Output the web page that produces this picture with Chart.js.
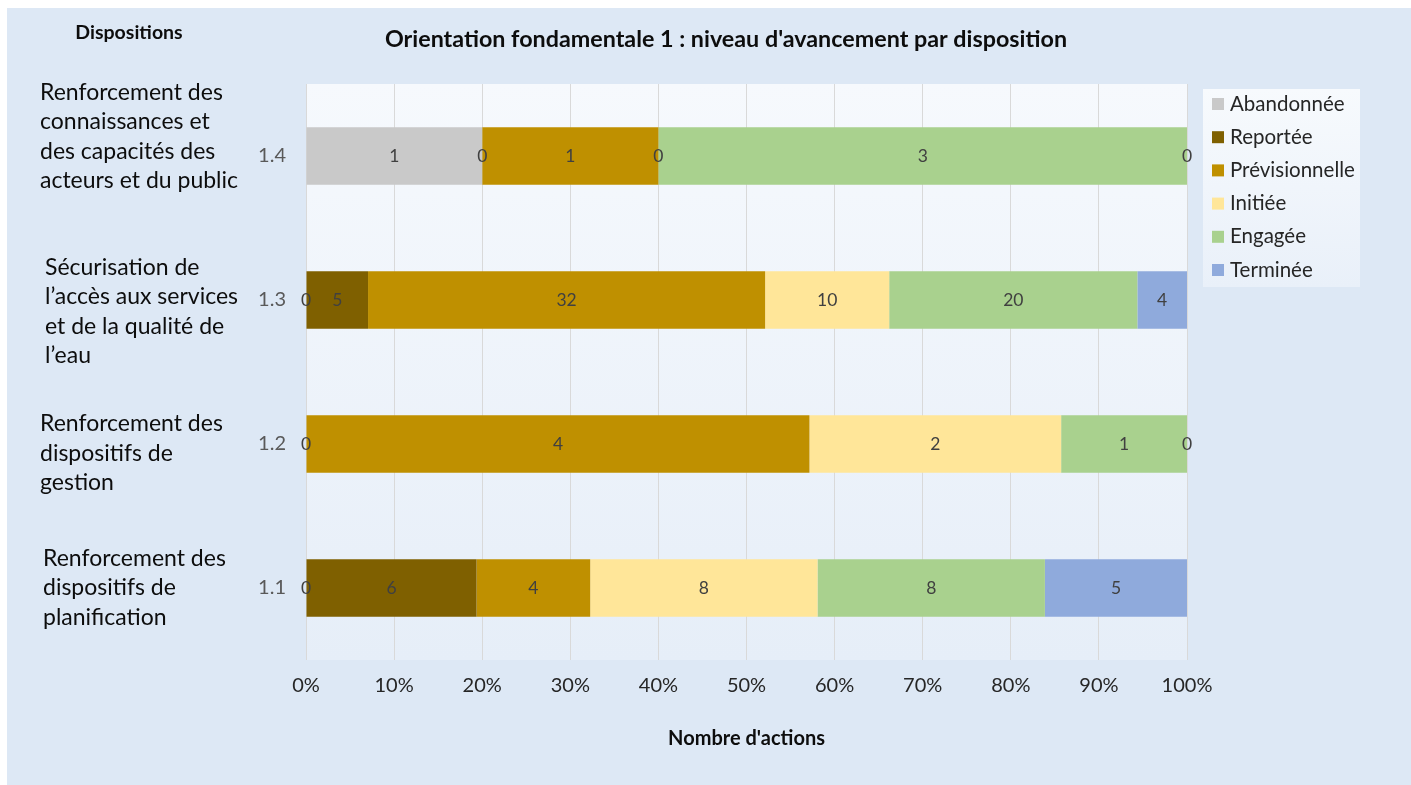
<!DOCTYPE html>
<html>
<head>
<meta charset="utf-8">
<script src="https://cdn.jsdelivr.net/npm/chart.js@4"></script>
<style>
  html, body { margin: 0; padding: 0; background: #fff; }
  #wrap { width: 1411px; height: 785px; }
</style>
</head>
<body>
<div id="wrap"><canvas id="avancement" width="1411" height="785"></canvas></div>
<script>
/* ========== Data ========== */
const codes = ["1.4", "1.3", "1.2", "1.1"];
const descriptions = [
  ["Renforcement des", "connaissances et", "des capacités des", "acteurs et du public"],
  ["Sécurisation de", "l’accès aux services", "et de la qualité de", "l’eau"],
  ["Renforcement des", "dispositifs de", "gestion"],
  ["Renforcement des", "dispositifs de", "planification"]
];
const seriesNames = ["Abandonnée", "Reportée", "Prévisionnelle", "Initiée", "Engagée", "Terminée"];
const abandonnee = [1, 0, null, 0];
const reportee = [0, 5, 0, 6];
const previsionnelle = [1, 32, 4, 4];
const initiee = [0, 10, 2, 8];
const engagee = [3, 20, 1, 8];
const terminee = [0, 4, 0, 5];
const xTicks = [0, 10, 20, 30, 40, 50, 60, 70, 80, 90, 100];

const colors = ["#c9c9c9", "#7f6000", "#bf9000", "#ffe699", "#a9d18e", "#8faadc"];
const counts = [abandonnee, reportee, previsionnelle, initiee, engagee, terminee];
const totals = codes.map((c, j) => counts.reduce((s, arr) => s + (arr[j] || 0), 0));

const FONT = "Lato, 'Open Sans', sans-serif";

/* ========== Background, plot area, texts ========== */
const decor = {
  id: "decor",
  beforeDraw(chart) {
    const { ctx, chartArea: a } = chart;
    ctx.save();
    ctx.fillStyle = "#dde8f5";
    ctx.fillRect(7, 8, chart.width - 7, chart.height - 8);
    const g = ctx.createLinearGradient(0, a.top, 0, a.bottom);
    g.addColorStop(0, "#f6f9fd");
    g.addColorStop(1, "#e6eef8");
    ctx.fillStyle = g;
    ctx.fillRect(a.left, a.top, a.right - a.left, a.bottom - a.top);
    ctx.restore();
  },
  afterDraw(chart) {
    const { ctx } = chart;
    const yScale = chart.scales.y;
    ctx.save();
    ctx.fillStyle = "#0d0d0d";
    ctx.textBaseline = "middle";
    ctx.textAlign = "center";
    ctx.font = "bold 23.3px " + FONT;
    ctx.fillText("Orientation fondamentale 1 : niveau d'avancement par disposition", 726, 39);
    ctx.font = "bold 19.5px " + FONT;
    ctx.fillText("Dispositions", 129, 33);

    // category descriptions
    const shift = [-19.5, 11.5, 9.5, 0];
    const xs = [40, 45, 40, 43];
    ctx.textAlign = "left";
    ctx.font = "23px " + FONT;
    descriptions.forEach((lines, j) => {
      const cy = yScale.getPixelForValue(j) + shift[j];
      const y0 = cy - (lines.length - 1) * 29.5 / 2;
      lines.forEach((l, k) => ctx.fillText(l, xs[j], y0 + k * 29.5));
    });

    // legend
    const lx = 1203, ly = 89, lw = 157, lh = 198;
    const g = ctx.createLinearGradient(0, ly, 0, ly + lh);
    g.addColorStop(0, "#f7fafd");
    g.addColorStop(1, "#e9f0f9");
    ctx.fillStyle = g;
    ctx.fillRect(lx, ly, lw, lh);
    ctx.font = "20.5px " + FONT;
    chart.data.datasets.forEach((ds, i) => {
      const y = 104 + i * 33.2;
      ctx.fillStyle = ds.backgroundColor;
      ctx.fillRect(1212, y - 6, 12, 12);
      ctx.fillStyle = "#262626";
      ctx.fillText(ds.label, 1230, y);
    });
    ctx.restore();
  }
};

/* ========== Value labels ========== */
const valueLabels = {
  id: "valueLabels",
  afterDatasetsDraw(chart) {
    const { ctx } = chart;
    ctx.save();
    ctx.fillStyle = "#404040";
    ctx.font = "17.5px " + FONT;
    ctx.textAlign = "center";
    ctx.textBaseline = "middle";
    chart.data.datasets.forEach((ds, i) => {
      chart.getDatasetMeta(i).data.forEach((bar, j) => {
        const v = counts[i][j];
        if (v == null) return;
        ctx.fillText(String(v), (bar.x + bar.base) / 2, bar.y);
      });
    });
    ctx.restore();
  }
};

/* ========== Chart ========== */
new Chart(document.getElementById("avancement"), {
  type: "bar",
  data: {
    labels: codes,
    datasets: seriesNames.map((name, i) => ({
      label: name,
      data: counts[i].map((v, j) => v == null ? null : v / totals[j] * 100),
      backgroundColor: colors[i],
      borderWidth: 0,
      categoryPercentage: 1,
      barPercentage: 0.4
    }))
  },
  options: {
    indexAxis: "y",
    responsive: false,
    animation: false,
    layout: { padding: { top: 84, right: 224, left: 0, bottom: 0 } },
    plugins: {
      legend: { display: false },
      tooltip: { enabled: false }
    },
    scales: {
      x: {
        stacked: true,
        min: 0,
        max: 100,
        afterBuildTicks: s => { s.ticks = xTicks.map(v => ({ value: v })); },
        afterFit: s => { s.height = 125; },
        grid: { color: "#d9d9d9", drawTicks: false },
        border: { display: false },
        ticks: {
          padding: 14,
          color: "#262626",
          font: { family: FONT, size: 20 },
          callback: v => v + "%"
        },
        title: {
          display: true,
          text: "Nombre d'actions",
          color: "#0d0d0d",
          font: { family: FONT, size: 20, weight: "bold" },
          padding: { top: 0, bottom: 34 }
        }
      },
      y: {
        stacked: true,
        afterFit: s => { s.width = 306; },
        grid: { display: false },
        border: { display: false },
        ticks: {
          padding: 12,
          color: "#595959",
          font: { family: FONT, size: 20 }
        }
      }
    }
  },
  plugins: [decor, valueLabels]
});
</script>
</body>
</html>
